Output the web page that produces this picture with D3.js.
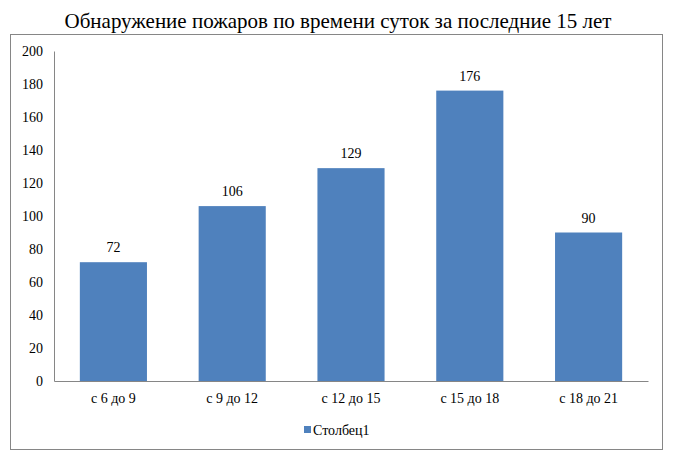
<!DOCTYPE html>
<html>
<head>
<meta charset="utf-8">
<script src="https://cdn.jsdelivr.net/npm/d3@7/dist/d3.min.js"></script>
<style>
  body { margin: 0; background: #fff; }
</style>
</head>
<body>
<div id="chart-area"></div>
<script>
// DATA
const categories = ['с 6 до 9', 'с 9 до 12', 'с 12 до 15', 'с 15 до 18', 'с 18 до 21']
const values = [72, 106, 129, 176, 90]
const yTicks = [0, 20, 40, 60, 80, 100, 120, 140, 160, 180, 200]
const seriesName = 'Столбец1'
const title = 'Обнаружение пожаров по времени суток за последние 15 лет'

const FONT = "'Liberation Serif', 'Times New Roman', serif"

// SIZE
const W = 680
const H = 465
const margin = { top: 51, left: 54, right: 32, bottom: 84 }
const width = W - margin.left - margin.right
const height = H - margin.top - margin.bottom

const svg = d3.select('#chart-area')
              .append('svg')
              .attr('width', W)
              .attr('height', H)
              .attr('font-family', FONT)

// OUTER FRAME
svg.append('rect')
   .attr('x', 10.5)
   .attr('y', 34.5)
   .attr('width', 652)
   .attr('height', 415)
   .attr('fill', 'none')
   .attr('stroke', '#868686')
   .attr('stroke-width', 1)

// TITLE
svg.append('text')
   .attr('x', 338)
   .attr('y', 28)
   .attr('text-anchor', 'middle')
   .attr('font-family', FONT)
   .attr('font-size', '21px')
   .attr('fill', '#000')
   .text(title)

const g = svg.append('g')
             .attr('transform', 'translate(' + margin.left + ',' + margin.top + ')')

// SCALES
const x = d3.scaleBand()
            .domain(categories)
            .range([0, width])
            .paddingInner(0.435)
            .paddingOuter(0.2175)

const y = d3.scaleLinear()
            .domain([0, 200])
            .range([height, 0])

// Y AXIS
const yAxisGroup = g.append('g')
                    .call(d3.axisLeft(y).tickValues(yTicks).tickSize(0).tickPadding(11))
yAxisGroup.attr('font-family', FONT).attr('font-size', 14)
yAxisGroup.select('.domain').attr('stroke', '#868686')
yAxisGroup.selectAll('text').attr('fill', '#000')

// BARS
g.selectAll('rect.bar')
 .data(values)
 .enter()
 .append('rect')
 .attr('class', 'bar')
 .attr('x', (d, i) => x(categories[i]))
 .attr('y', d => y(d))
 .attr('width', x.bandwidth())
 .attr('height', d => height - y(d))
 .attr('fill', '#4F81BD')

// VALUE LABELS
g.selectAll('text.value')
 .data(values)
 .enter()
 .append('text')
 .attr('class', 'value')
 .attr('x', (d, i) => x(categories[i]) + x.bandwidth() / 2)
 .attr('y', d => y(d) - 10)
 .attr('text-anchor', 'middle')
 .attr('font-family', FONT)
 .attr('font-size', '14px')
 .attr('fill', '#000')
 .text(d => d)

// X AXIS
const xAxisGroup = g.append('g')
                    .attr('transform', 'translate(0,' + height + ')')
                    .call(d3.axisBottom(x).tickSize(0).tickPadding(12))
xAxisGroup.attr('font-family', FONT).attr('font-size', 14)
xAxisGroup.select('.domain').attr('stroke', '#868686')
xAxisGroup.selectAll('text').attr('fill', '#000')

// LEGEND
const legend = svg.append('g')
                  .attr('transform', 'translate(304,430)')
legend.append('rect')
      .attr('x', 0)
      .attr('y', -4)
      .attr('width', 7)
      .attr('height', 7)
      .attr('fill', '#4F81BD')
legend.append('text')
      .attr('x', 9)
      .attr('y', 5)
      .attr('font-family', FONT)
      .attr('font-size', '14px')
      .attr('fill', '#000')
      .text(seriesName)
</script>
</body>
</html>
